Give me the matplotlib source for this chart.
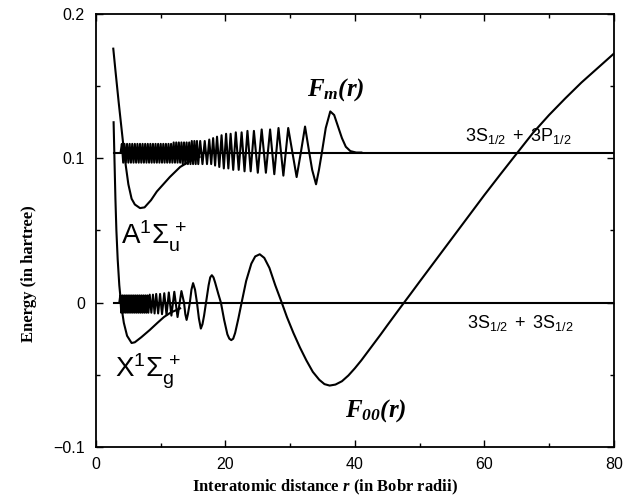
import matplotlib
matplotlib.use("Agg")
import matplotlib.pyplot as plt
from matplotlib.ticker import MultipleLocator

plt.rcParams['mathtext.fontset'] = 'custom'
plt.rcParams['mathtext.rm'] = 'Liberation Serif:bold:italic'
plt.rcParams['mathtext.it'] = 'Liberation Serif:bold:italic'
plt.rcParams['mathtext.bf'] = 'Liberation Serif:bold'
plt.rcParams['mathtext.sf'] = 'Liberation Sans'

# ---- data ----
# ground-state radial wavefunction F00(r), drawn around 0 hartree
F00_r = [3.60, 3.75, 3.90, 4.05, 4.20, 4.35, 4.50, 4.65, 4.80, 4.95, 5.10, 5.25,
         5.40, 5.55, 5.70, 5.85, 6.00, 6.15, 6.30, 6.45, 6.60, 6.75, 6.90, 7.05,
         7.20, 7.35, 7.50, 7.65, 7.80, 7.95, 8.10, 8.30, 8.55, 8.80, 9.05, 9.30,
         9.60, 9.90, 10.20, 10.55, 10.90, 11.25, 11.65, 12.10, 12.60, 13.20, 13.60,
         13.80, 14.00, 14.20, 14.50, 14.75, 15.00, 15.30, 15.60, 15.90, 16.20,
         16.45, 16.70, 17.00, 17.40, 17.65, 17.90, 18.15, 18.40, 18.90, 19.30,
         19.80, 20.30, 20.60, 20.90, 21.20, 21.50, 22.00, 22.50, 23.20, 24.00,
         24.60, 25.30, 26.00, 26.80, 27.70, 28.70, 29.50, 30.50, 31.50, 32.50,
         33.50, 34.50, 35.30, 36.10, 37.00, 38.00, 39.00, 40.00, 41.00, 42.00,
         43.00, 44.00, 45.00, 46.00, 47.00, 47.60, 48.60, 50.00, 52.50, 55.00,
         57.50, 60.00, 62.50, 65.30, 67.50, 70.00, 72.50, 75.00, 77.50, 80.00]
F00_E = [0.0, 0.005, -0.007, 0.005, -0.007, 0.005, -0.007, 0.005, -0.007, 0.005,
         -0.007, 0.005, -0.007, 0.005, -0.007, 0.005, -0.007, 0.005, -0.007, 0.005,
         -0.007, 0.005, -0.007, 0.005, -0.007, 0.005, -0.007, 0.005, -0.007, 0.005,
         -0.007, 0.0055, -0.007, 0.0055, -0.0075, 0.006, -0.0075, 0.006, -0.008,
         0.0065, -0.0085, 0.007, -0.009, 0.0075, -0.010, 0.008, 0.0,
         -0.008, -0.012, -0.008, 0.0, 0.009, 0.0135, 0.009, 0.0, -0.011, -0.018,
         -0.015, -0.009, 0.0, 0.012, 0.0175, 0.019, 0.0175, 0.014, 0.006, 0.0,
         -0.012, -0.022, -0.025, -0.026, -0.025, -0.021, -0.011, 0.0, 0.015, 0.027,
         0.032, 0.0335, 0.031, 0.024, 0.012, 0.0, -0.010, -0.021, -0.031, -0.040,
         -0.048, -0.0535, -0.0565, -0.0575, -0.0568, -0.0545, -0.0505, -0.0455,
         -0.0400, -0.0340, -0.0280, -0.0220, -0.0158, -0.0097, -0.0036, 0.0, 0.006,
         0.0145, 0.0295, 0.0445, 0.0595, 0.0745, 0.089, 0.105, 0.1175, 0.130,
         0.1415, 0.1525, 0.1625, 0.1725]

# excited radial wavefunction Fm(r), drawn around the 3S+3P asymptote
Fm_r = [3.8, 4.0, 4.2, 4.4, 4.6, 4.8, 5.0, 5.2, 5.4, 5.6, 5.8, 6.0, 6.2, 6.4, 6.6,
        6.8, 7.0, 7.2, 7.4, 7.6, 7.8, 8.0, 8.2, 8.4, 8.6, 8.8, 9.0, 9.2, 9.4, 9.6,
        9.8, 10.0, 10.2, 10.4, 10.6, 10.8, 11.0, 11.2, 11.4, 11.6, 11.8, 12.0,
        12.2, 12.4, 12.6, 12.8, 13.0, 13.2, 13.4, 13.6, 13.8, 14.0, 14.2, 14.4,
        14.6, 14.8, 15.0, 15.2, 15.4, 15.6, 15.8, 16.1, 16.45, 16.8, 17.15, 17.5,
        17.8, 18.1, 18.4, 18.7, 19.05, 19.4, 19.75, 20.1, 20.45, 20.8, 21.2, 21.6,
        22.05, 22.5, 22.95, 23.4, 23.9, 24.4, 25.0, 25.6, 26.25, 26.9, 27.55,
        28.2, 28.95, 29.7, 30.35, 31.0, 31.65, 32.3, 32.95, 33.4, 34.0, 34.45,
        34.9, 35.5, 36.2, 36.8, 37.4, 38.0, 38.6, 39.3, 40.2, 41.0]
Fm_E = [0.104, 0.110, 0.097, 0.110, 0.097, 0.110, 0.097, 0.110, 0.097, 0.110,
        0.097, 0.110, 0.097, 0.110, 0.097, 0.110, 0.097, 0.110, 0.097, 0.110,
        0.097, 0.110, 0.097, 0.110, 0.097, 0.110, 0.097, 0.110, 0.097, 0.110,
        0.097, 0.110, 0.097, 0.110, 0.097, 0.110, 0.097, 0.110, 0.097, 0.110,
        0.097, 0.111, 0.097, 0.111, 0.097, 0.111, 0.097, 0.111, 0.096, 0.111,
        0.096, 0.111, 0.096, 0.111, 0.096, 0.112, 0.096, 0.112, 0.096, 0.112,
        0.096, 0.112, 0.096, 0.112, 0.096, 0.113, 0.096, 0.114, 0.095, 0.115,
        0.094, 0.116, 0.093, 0.117, 0.093, 0.117, 0.092, 0.118, 0.092, 0.118,
        0.091, 0.119, 0.091, 0.119, 0.090, 0.120, 0.090, 0.120, 0.089, 0.121,
        0.088, 0.121, 0.104, 0.087, 0.104, 0.122, 0.104, 0.092, 0.082, 0.092,
        0.104, 0.121, 0.1325, 0.130, 0.122, 0.114, 0.108, 0.105, 0.104, 0.104]

# X 1Sigma_g+ potential
X_r = [2.72, 2.85, 3.0, 3.15, 3.35, 3.6, 3.9, 4.3, 4.8, 5.5, 6.0, 7.0, 8.3, 9.5,
       10.5, 11.5, 13.0]
X_E = [0.125, 0.100, 0.072, 0.050, 0.030, 0.012, -0.002, -0.014, -0.023, -0.028,
       -0.0275, -0.024, -0.019, -0.014, -0.010, -0.007, -0.004]

# A 1Sigma_u+ potential
A_r = [2.67, 3.0, 3.5, 4.2, 4.6, 5.0, 5.5, 6.0, 6.8, 7.5, 8.5, 9.4, 10.4, 11.4,
       13.0, 14.5, 16.0]
A_E = [0.176, 0.161, 0.139, 0.110, 0.095, 0.082, 0.072, 0.068, 0.0655, 0.066,
       0.071, 0.077, 0.082, 0.087, 0.094, 0.098, 0.101]

# asymptotes
asym_r = [2.85, 80.0]
asym_S = [0.0, 0.0]
asym_P = [0.104, 0.104]

xticks = [0, 20, 40, 60, 80]
xtick_labels = ['0', '20', '40', '60', '80']
yticks = [-0.1, 0.0, 0.1, 0.2]
ytick_labels = ['\u22120.1', '0', '0.1', '0.2']

# ---- figure ----
fig = plt.figure(figsize=(6.4, 5.01), dpi=100)
ax = fig.add_axes([0.150, 0.108, 0.809, 0.864])

lw = 1.5
for r, e in [(asym_r, asym_S), (asym_r, asym_P), (X_r, X_E), (A_r, A_E),
             (F00_r, F00_E), (Fm_r, Fm_E)]:
    ax.plot(r, e, color='black', lw=lw, solid_joinstyle='round')

ax.set_xlim(0, 80)
ax.set_ylim(-0.1, 0.2)
ax.set_xticks(xticks)
ax.set_xticklabels(xtick_labels, fontfamily='Liberation Sans', fontsize=11.5)
ax.set_yticks(yticks)
ax.set_yticklabels(ytick_labels, fontfamily='Liberation Sans', fontsize=11.5)
ax.xaxis.set_minor_locator(MultipleLocator(10))
ax.yaxis.set_minor_locator(MultipleLocator(0.05))
ax.tick_params(which='both', direction='in', top=True, right=True, width=1)
ax.tick_params(which='major', length=5)
ax.tick_params(which='minor', length=3)
ax.tick_params(axis='x', pad=7)
ax.tick_params(axis='y', pad=8)
for s in ax.spines.values():
    s.set_linewidth(1.3)

ax.set_xlabel('Interatomic distance $r$ (in Bobr radii)', fontfamily='Liberation Serif',
              fontweight='bold', fontsize=12)
ax.xaxis.set_label_coords(0.442, -0.072)
ax.set_ylabel('Energy (in hartree)', fontfamily='Liberation Serif', fontweight='bold',
              fontsize=12)
ax.yaxis.set_label_coords(-0.114, 0.40)

# annotations
ax.text(37.1, 0.1475, r'$F_{m}(r)$', fontsize=18, ha='center', va='center')
ax.text(43.2, -0.0745, r'$F_{00}(r)$', fontsize=18, ha='center', va='center')
ax.text(65.2, 0.1155, r'$\mathsf{3S_{1/2}\ +\ 3P_{1/2}}$', fontsize=13,
        ha='center', va='center')
ax.text(65.6, -0.014, r'$\mathsf{3S_{1/2}\ +\ 3S_{1/2}}$', fontsize=13,
        ha='center', va='center')
ax.text(3.86, 0.0406, r'$\mathsf{A^{1}\Sigma_{u}^{\,+}}$', fontsize=20,
        ha='left', va='baseline')
ax.text(2.93, -0.0522, r'$\mathsf{X^{1}\Sigma_{g}^{\,+}}$', fontsize=20,
        ha='left', va='baseline')

fig.savefig('out.png', dpi=100)
